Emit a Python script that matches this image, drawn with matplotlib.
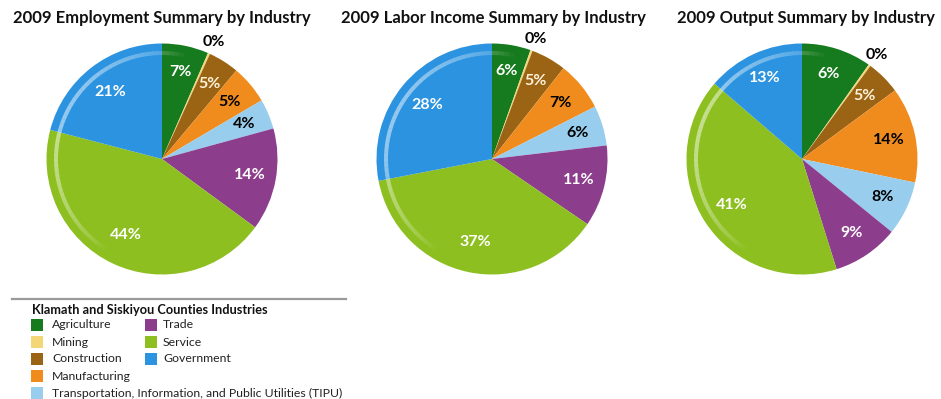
import numpy as np
import matplotlib.pyplot as plt
from matplotlib.patches import Wedge, Rectangle

plt.rcParams['font.family'] = ['Lato', 'DejaVu Sans']

industries = ['Agriculture', 'Mining', 'Construction', 'Manufacturing',
              'Transportation, Information, and Public Utilities (TIPU)',
              'Trade', 'Service', 'Government']
colors = ['#167a1e', '#f3d777', '#9b6414', '#f08c1e',
          '#98cdee', '#8c3d8c', '#8cbf1f', '#2b93e0']
text_colors = ['white', 'black', '#fff3dc', 'black', 'black', 'white', 'white', 'white']

titles = ['2009 Employment Summary by Industry',
          '2009 Labor Income Summary by Industry',
          '2009 Output Summary by Industry']

# slice sizes, labels as printed on it
employment = [6.5, 0.3, 4.3, 5.4, 4.2, 14.3, 43.9, 20.9]
employment_labels = ['7%', '0%', '5%', '5%', '4%', '14%', '44%', '21%']
labor_income = [5.4, 0.3, 4.9, 6.9, 5.6, 11.4, 37.4, 28.0]
labor_labels = ['6%', '0%', '5%', '7%', '6%', '11%', '37%', '28%']
output = [9.8, 0.3, 4.8, 13.4, 7.6, 9.3, 41.2, 13.7]
output_labels = ['6%', '0%', '5%', '14%', '8%', '9%', '41%', '13%']

legend_title = 'Klamath and Siskiyou Counties Industries'
legend_col1 = [0, 1, 2, 3, 4]
legend_col2 = [5, 6, 7]

W, H = 941, 399
R = 115.5
half = 125
centers = [(162, 159), (492, 159), (802, 159)]
title_x = [162, 493, 806]

fig = plt.figure(figsize=(W / 100, H / 100), dpi=100)
fig.patch.set_facecolor('white')

def draw_pie(cx, cy, values, labels, title, tx):
    ax = fig.add_axes([(cx - half) / W, (H - cy - half) / H, 2 * half / W, 2 * half / H])
    wedges, _ = ax.pie(values, colors=colors, startangle=90, counterclock=False,
                       wedgeprops=dict(linewidth=0))
    ax.set_xlim(-half / R, half / R)
    ax.set_ylim(-half / R, half / R)
    ax.axis('off')
    for i, w in enumerate(wedges):
        mid = np.deg2rad((w.theta1 + w.theta2) / 2)
        r = 1.11 if i == 1 else (0.73 if values[i] > 20 else 0.77)
        ax.text(r * np.cos(mid), r * np.sin(mid), labels[i], ha='center', va='center',
                fontsize=11.5, fontweight='bold', color=text_colors[i])
    # glossy highlight arc
    steps = 60
    angs = np.linspace(78, 238, steps + 1)
    for k in range(steps):
        a = np.sin(np.pi * (k + 0.5) / steps) ** 0.7 * 0.5
        ax.add_patch(Wedge((0, 0), 0.935, angs[k], angs[k + 1], width=0.035,
                           facecolor='white', alpha=a, linewidth=0))
    fig.text(tx / W, 1 - 18 / H, title, ha='center', va='center',
             fontsize=12, fontweight='bold', color='#111111')

draw_pie(*centers[0], employment, employment_labels, titles[0], title_x[0])
draw_pie(*centers[1], labor_income, labor_labels, titles[1], title_x[1])
draw_pie(*centers[2], output, output_labels, titles[2], title_x[2])

# legend block
lax = fig.add_axes([0, 0, 1, 1])
lax.set_xlim(0, W)
lax.set_ylim(H, 0)
lax.axis('off')
lax.plot([12, 346], [299, 299], color='#9a9a9a', linewidth=1.6)
lax.text(32, 310, legend_title, ha='left', va='center', fontsize=9.2,
         fontweight='bold', color='#111111')
rows = [325, 342, 359, 376, 393]
for col, (sx, tx) in zip([legend_col1, legend_col2], [(31, 52), (145, 163)]):
    for j, idx in enumerate(col):
        y = rows[j]
        lax.add_patch(Rectangle((sx, y - 6), 12, 12, facecolor=colors[idx], linewidth=0))
        lax.text(tx, y, industries[idx], ha='left', va='center', fontsize=8.8, color='#222222')

fig.savefig('out.png', dpi=100)
